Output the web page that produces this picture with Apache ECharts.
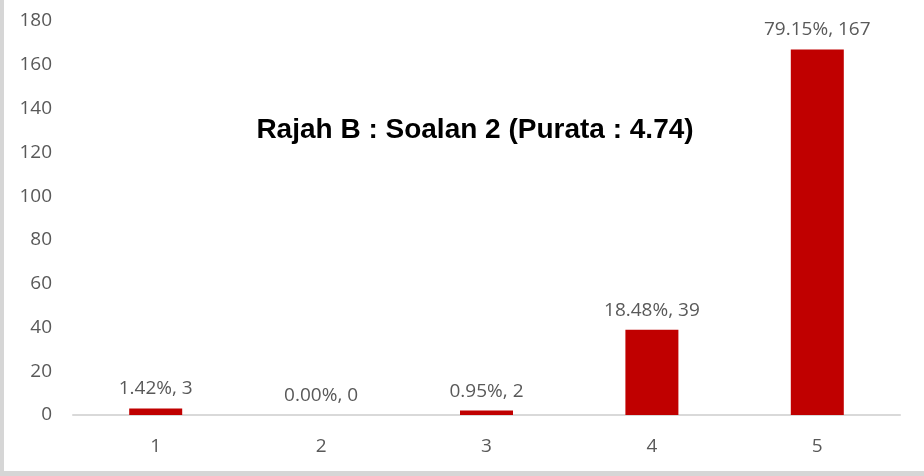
<!DOCTYPE html>
<html>
<head>
<meta charset="utf-8">
<script src="https://cdn.jsdelivr.net/npm/echarts@6/dist/echarts.min.js"></script>
<style>
html,body{margin:0;padding:0;background:#fff;}
#chart{width:924px;height:476px;}
</style>
</head>
<body>
<div id="chart"></div>
<script>
var categories = ['1', '2', '3', '4', '5'];
var counts = [3, 0, 2, 39, 167];
var percents = ['1.42%', '0.00%', '0.95%', '18.48%', '79.15%'];
var titleText = 'Rajah B : Soalan 2 (Purata : 4.74)';

var chart = echarts.init(document.getElementById('chart'), null, {renderer: 'canvas'});
var font = 'Open Sans';
chart.setOption({
  animation: false,
  backgroundColor: '#ffffff',
  title: {
    text: titleText,
    left: 470, top: 111, textAlign: 'center',
    textStyle: {fontFamily: 'Liberation Sans', fontWeight: 'bold', fontSize: 28, color: '#000000'}
  },
  grid: {left: 73, right: 24, top: 21, bottom: 61, containLabel: false},
  xAxis: {
    type: 'category',
    data: categories,
    axisLine: {lineStyle: {color: '#d9d9d9', width: 2}},
    axisTick: {show: false},
    axisLabel: {color: '#595959', fontFamily: font, fontSize: 19, margin: 22}
  },
  yAxis: {
    type: 'value', min: 0, max: 180, interval: 20,
    axisLine: {show: false},
    axisTick: {show: false},
    splitLine: {show: false},
    axisLabel: {color: '#595959', fontFamily: font, fontSize: 19, margin: 21}
  },
  series: [{
    type: 'bar',
    data: counts,
    barWidth: 53,
    itemStyle: {color: '#c00000'},
    label: {
      show: true, position: 'top', distance: 10,
      color: '#595959', fontFamily: font, fontSize: 19,
      formatter: function (p) { return percents[p.dataIndex] + ', ' + p.value; }
    }
  }],
  graphic: [
    {type: 'rect', left: 0, top: 0, shape: {width: 4, height: 476}, style: {fill: '#d6d6d6'}, silent: true},
    {type: 'rect', left: 0, top: 471, shape: {width: 924, height: 5}, style: {fill: '#d6d6d6'}, silent: true}
  ]
});
</script>
</body>
</html>
